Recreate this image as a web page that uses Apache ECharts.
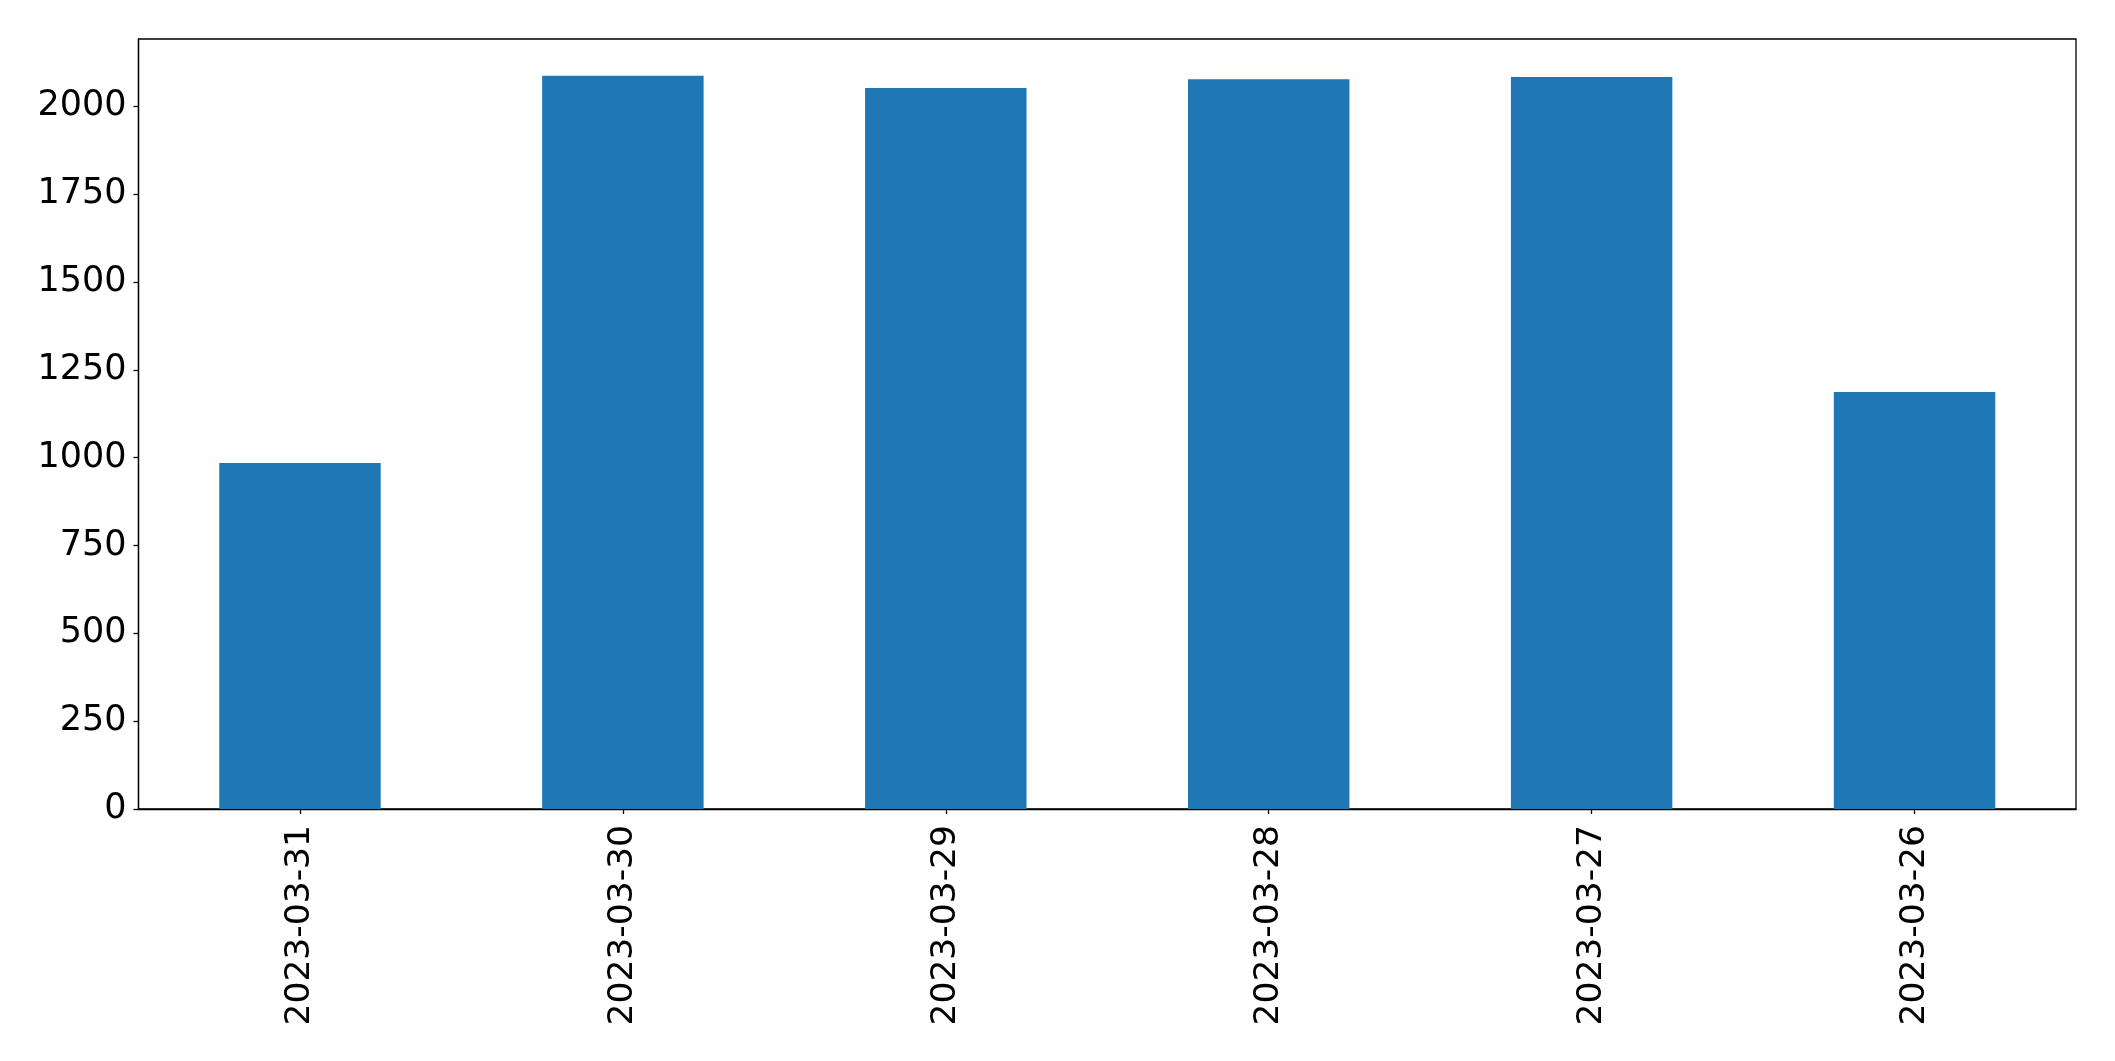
<!DOCTYPE html>
<html>
<head>
<meta charset="utf-8">
<script src="https://cdn.jsdelivr.net/npm/echarts@6/dist/echarts.min.js"></script>
<style>html,body{margin:0;padding:0;background:#fff;}#c{width:2115px;height:1061px;}</style>
</head>
<body>
<div id="c"></div>
<script>
const categories = ["2023-03-31", "2023-03-30", "2023-03-29", "2023-03-28", "2023-03-27", "2023-03-26"];
const values = [985, 2087, 2052, 2077, 2083, 1187];
const yTicks = [0, 250, 500, 750, 1000, 1250, 1500, 1750, 2000];

const chart = echarts.init(document.getElementById('c'), null, {renderer: 'canvas'});
const yMax = Math.max(...values) * 1.05;
chart.setOption({
  animation: false,
  backgroundColor: '#ffffff',
  grid: {left: 138.5, right: 39, top: 39, bottom: 252, show: true, borderColor: '#000', borderWidth: 1.3, backgroundColor: 'transparent'},
  xAxis: {
    type: 'category',
    data: categories,
    axisLine: {show: true, lineStyle: {color: '#000', width: 1.3}},
    axisTick: {show: true, alignWithLabel: true, length: 5, lineStyle: {color: '#000', width: 1.3}},
    axisLabel: {rotate: 90, margin: 16, fontSize: 34.5, color: '#000', fontFamily: 'DejaVu Sans', interval: 0},
    splitLine: {show: false}
  },
  yAxis: {
    type: 'value',
    min: 0,
    max: yMax,
    interval: 250,
    axisLine: {show: true, lineStyle: {color: '#000', width: 1.3}},
    axisTick: {show: true, length: 5, lineStyle: {color: '#000', width: 1.3}},
    axisLabel: {margin: 12, fontSize: 35, color: '#000', fontFamily: 'DejaVu Sans', showMaxLabel: false,
      padding: [12, 0, 0, 0],
      formatter: v => yTicks.includes(v) ? String(v) : ''},
    splitLine: {show: false}
  },
  series: [{
    type: 'bar',
    data: values,
    barWidth: '50%',
    itemStyle: {color: '#1f77b4'}
  }]
});
</script>
</body>
</html>
